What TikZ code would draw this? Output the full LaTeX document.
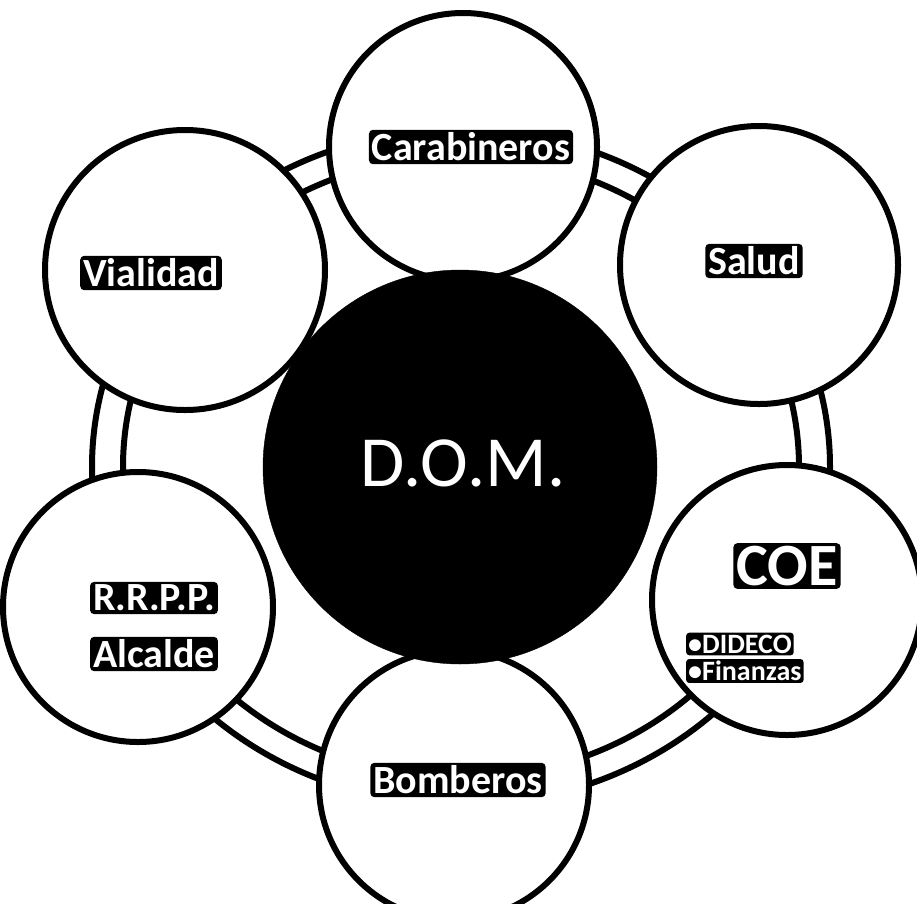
\documentclass[tikz,border=0pt]{standalone}
\usepackage{fontspec}
\setmainfont{Carlito}
\begin{document}
\begin{tikzpicture}[x=1pt,y=-1pt,
  outer/.style={circle,draw=black,line width=6pt,fill=white,inner sep=0pt},
  lbl/.style={fill=black,text=white,rounded corners=4pt,inner sep=3pt,font=\bfseries\fontsize{40}{44}\selectfont},
  small/.style={fill=black,text=white,rounded corners=3pt,inner sep=2pt,font=\bfseries\fontsize{28}{30}\selectfont,anchor=west}]
\useasboundingbox (0,0) rectangle (917,903);
% ring band
\draw[line width=6pt,fill=white,even odd rule]
  (461,467) ellipse [x radius=369,y radius=338]
  (461,467) ellipse [x radius=338,y radius=311];
% outer circles
\node[outer,minimum size=268pt] (carab) at (463,147) {};
\node[outer,minimum size=278pt] (salud) at (759,265) {};
\node[outer,minimum size=270pt] (coe) at (787,600) {};
\node[outer,minimum size=270pt] (bomb) at (454,785) {};
\node[outer,minimum size=270pt] (rrpp) at (138,607) {};
\node[outer,minimum size=280pt] (vial) at (185,270) {};
% center
\node[circle,fill=black,draw=black,minimum size=394pt,inner sep=0pt] (dom) at (460,467) {};
\node[text=white,font=\fontsize{72}{76}\selectfont] (domt) at (463,463) {D.O.M.};
% labels
\node[lbl] (carabt) at (471,147) {Carabineros};
\node[lbl] (saludt) at (754,261) {Salud};
\node[lbl] (vialt) at (151,273) {Vialidad};
\node[lbl,font=\bfseries\fontsize{60}{64}\selectfont] (coet) at (787,566) {COE};
\node[small] (dideco) at (686,644) {•DIDECO};
\node[small] (finan) at (686,671) {•Finanzas};
\node[lbl] (rrppt) at (154,598) {R.R.P.P.};
\node[lbl] (alcalde) at (154,654) {Alcalde};
\node[lbl] (bombt) at (458,780) {Bomberos};
\end{tikzpicture}
\end{document}
